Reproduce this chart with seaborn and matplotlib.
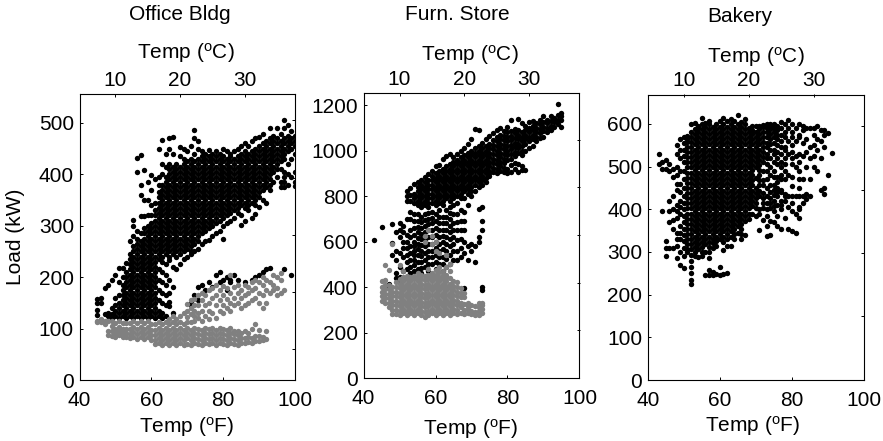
import pandas as pd
import seaborn as sns
import matplotlib.pyplot as plt

# Values: one list of loads (kW) for each whole-degree temperature (F)
office_high_temp = [45,46,47,48,49,50,51,52,53,54,55,56,57,58,59,60,61,62,63,64,65,66,67,68,69,70,71,72,73,74,75,76,77,78,79,80,81,82,83,84,85,86,87,88,89,90,91,92,93,94,95,96,97,98,99,100]
office_high_load = [
    [127,136,150,158], [150,160], [178,128], [125,130,185], [120,128,140,195], [125,135,145,160,205],
    [120,130,140,150,165,190,218], [125,135,145,155,165,175,185,200,218],
    [120,130,140,150,160,170,180,190,200,210,228],
    [125,135,145,155,165,175,185,195,205,215,225,235,245,270],
    [120,130,140,150,160,170,180,190,200,210,220,230,240,250,260,280,300,311],
    [125,135,145,155,165,175,185,195,205,215,225,235,245,255,265,275,290,405,432],
    [120,130,140,150,160,170,180,190,200,210,220,230,240,250,260,270,285,318,360,380,437],
    [125,135,145,155,165,175,185,195,205,215,225,235,245,255,265,275,285,295,318,350,408],
    [120,130,140,150,160,170,180,190,200,210,220,230,240,250,260,270,280,290,300,320,350,385],
    [125,135,145,155,165,175,185,195,205,215,225,235,245,255,265,275,285,295,305,320,340,370,398],
    [120,130,140,150,160,170,180,190,200,210,220,230,240,250,260,270,280,290,300,310,320,330,345,390],
    [125,135,155,175,195,215,235,245,255,265,275,285,295,305,315,325,335,345,355,365,380,395,450],
    [120,130,150,170,190,210,230,240,250,260,270,280,290,300,310,320,330,340,350,360,370,380,400,420,467],
    [125,145,165,185,205,225,245,255,265,275,285,295,305,315,325,335,345,355,365,375,385,395,415,440],
    [143,152,170,195,233,240,250,260,270,280,290,300,310,320,330,340,350,360,370,380,390,400,410,420,450,470],
    [130,180,220,245,255,265,275,285,295,305,315,325,335,345,355,365,375,385,395,405,415,440,473],
    [215,240,250,260,270,280,290,300,310,320,330,340,350,360,370,380,390,400,410,420],
    [225,245,255,265,275,285,295,305,315,325,335,345,355,365,375,385,395,405,415,435,453],
    [235,250,260,270,280,290,300,310,320,330,340,350,360,370,380,390,400,410,420,430,450],
    [240,255,265,275,285,295,305,315,325,335,345,355,365,375,385,395,405,415,425,445],
    [145,150,245,250,260,270,280,290,300,310,320,330,340,350,360,370,380,390,400,410,420,430,455],
    [165,250,265,275,285,295,305,315,325,335,345,355,365,375,385,395,405,415,425,440,470,486],
    [155,180,255,270,280,290,300,310,320,330,340,350,360,370,380,390,400,410,420,430,450,465],
    [185,265,285,295,305,315,325,335,345,355,365,375,385,395,405,415,425,435,445],
    [175,270,290,300,310,320,330,340,350,360,370,380,390,400,410,420,430,440],
    [190,272,295,305,315,325,335,345,355,365,375,385,395,405,415,425,435,447],
    [180,280,300,310,320,330,340,350,360,370,380,390,400,410,420,430,440],
    [205,285,305,315,325,335,345,355,365,375,385,395,405,415,425,435,445],
    [190,210,290,310,320,330,340,350,360,370,380,390,400,410,420,430,440],
    [275,195,300,315,325,335,345,355,365,375,385,395,405,415,425,435,450],
    [175,200,305,320,330,340,350,360,370,380,390,400,410,420,430,445],
    [195,190,310,325,335,345,355,365,375,385,395,405,415,425,435,440],
    [205,315,330,340,350,360,370,380,390,400,410,420,430,445],
    [195,325,335,345,355,365,375,385,395,405,415,425,435,450],
    [301,320,340,350,360,370,380,390,400,410,420,430,440,455],
    [190,310,335,345,355,365,375,385,395,405,415,425,435,445,460],
    [330,340,350,360,370,380,390,400,410,420,430,440,455],
    [195,315,345,355,365,375,385,395,405,415,425,435,445,465],
    [200,322,340,350,360,370,380,390,400,410,420,430,440,450,470],
    [205,337,355,365,375,385,395,405,415,425,435,445,455,473],
    [210,350,370,380,390,400,410,420,430,440,450,460,478],
    [215,345,375,385,395,405,415,425,435,445,455,465],
    [218,370,380,390,400,410,420,430,440,450,460,470,490],
    [385,405,415,425,435,445,455,465,475],
    [395,410,420,430,440,450,460,470,490],
    [375,385,410,425,435,445,455,465,478],
    [215,375,385,395,405,430,440,450,460,470,490,505],
    [380,400,420,445,455,465,475,495],
    [205,395,430,450,460,470,485],
    [378,385,405,440,455,465,475],
    [380,390,408,460,470,480],
    [425,445,465,480],
]

office_low_temp = [45,46,47,48,49,50,51,52,53,54,55,56,57,58,59,60,61,62,63,64,65,66,67,68,69,70,71,72,73,74,75,76,77,78,79,80,81,82,83,84,85,86,87,88,89,90,91,92,93,94,95,96,97]
office_low_load = [
    [112,115], [118,112], [108,115], [88,95,115], [86,95,105,115], [84,92,100,110], [88,96,104,114], [84,92,100,110],
    [84,92,100,110], [82,90,100,110], [84,94,104,114], [80,90,100,110], [84,94,104,114], [80,90,100,110], [84,94,104,114],
    [78,88,98,108], [70,78,88,98,108], [72,82,92,102,112], [68,78,88,98,108], [72,82,92,102,112], [68,78,88,98,108,118],
    [72,82,92,102,112,124], [68,78,88,98,108,118], [72,82,92,102,112,125], [68,78,88,98,108,130],
    [70,82,92,102,112,122,135,148], [68,78,88,98,112,128,140,155], [72,82,92,102,115,125,135,145,158], [70,80,90,100,120,130,145,165],
    [68,78,88,98,115,135,155,170], [72,82,92,102,125,145,165], [70,80,90,100,118,135,150,175],
    [72,82,92,102,130,160,178], [68,78,88,98,120,145,165,185], [72,82,92,102,135,155,175], [70,80,90,100,130,145,165,183],
    [68,78,88,98,140,158,178], [72,82,92,102,135,150,170,205], [70,80,90,96,145,160,180], [68,78,88,96,150,170,185],
    [72,82,92,140,160,175], [72,82,95,145,165,185], [74,84,92,150,170,180], [72,82,100,155,175,190], [76,86,108,160,178,195],
    [76,86,98,150,170,190], [78,84,140,165,185,200], [80,96,150,175,195], [170,190], [175,185,205], [165,178,200], [170,195,208], [175]
]

furn_high_temp = [43,45,47,48,49,50,51,52,53,54,55,56,57,58,59,60,61,62,63,64,65,66,67,68,69,70,71,72,73,74,75,76,77,78,79,80,81,82,83,84,85,86,87,88,89,90,91,92,93,94,95]
furn_high_load = [
    [605], [665], [400,415], [595,540,675], [440,460,520,560,640], [420,445,490,550,620,650,680],
    [440,470,530,570,600,640,670], [440,480,510,540,570,600,630,700,780,800,820], [460,490,520,550,580,620,650,700,730,780,805,835],
    [470,495,520,540,560,580,600,630,660,690,720,770,790,810,855], [480,510,540,565,590,615,640,665,690,720,760,780,800,820,840,860],
    [460,485,510,535,560,585,610,635,660,685,710,750,770,790,810,830,850,870], [490,520,550,580,610,640,670,695,720,760,780,800,820,840,860,885],
    [470,500,530,560,590,620,650,675,700,725,750,770,790,810,830,850,870,895], [500,530,560,590,620,650,680,705,730,770,790,810,830,850,870,890,910],
    [480,510,540,570,600,630,660,690,720,760,780,800,820,840,860,880,900,930], [500,530,560,590,620,650,680,710,740,770,790,810,830,850,870,890,910,935],
    [470,500,530,565,600,625,650,680,710,760,780,800,820,840,860,880,900,920,965], [490,525,560,590,620,650,680,710,740,790,810,830,850,870,890,910,930,975],
    [500,540,580,610,640,670,700,725,750,780,800,820,840,860,880,900,920,940,985], [520,560,590,620,650,680,720,760,790,810,830,850,870,890,910,930,950,970],
    [520,560,605,650,685,720,770,800,820,840,860,880,900,920,940,960,985], [530,570,610,650,690,740,790,810,830,850,870,890,910,930,950,970,1000],
    [395,550,600,650,690,730,790,820,840,860,880,900,920,940,960,980,1010], [520,580,760,810,830,850,870,890,910,930,950,970,990,1030],
    [560,590,800,820,840,860,880,900,920,940,960,980,1000,1050], [510,580,820,850,870,890,910,930,950,970,990,1010,1095],
    [745,620,600,840,860,880,900,920,940,960,980,1000,1020,1090], [385,400,650,690,750,850,870,890,910,930,950,970,990,1010,1035],
    [860,880,900,920,940,960,980,1000,1020,1050], [900,890,910,930,950,970,990,1010,1030,1065],
    [905,925,945,965,985,1005,1025,1045,1075], [900,920,940,960,980,1000,1020,1040,1060,1090],
    [910,930,950,970,990,1010,1030,1050,1070,1100], [905,925,945,965,985,1005,1025,1045,1065,1085],
    [900,920,960,980,1000,1020,1040,1060,1080,1105], [905,935,965,985,1005,1025,1045,1065,1085,1135],
    [920,945,975,995,1015,1035,1055,1075,1095], [905,940,990,1010,1030,1050,1070,1090,1140],
    [915,930,980,1000,1020,1040,1060,1080,1120], [915,1000,1030,1050,1070,1090,1110],
    [1010,1040,1060,1080,1100,1125], [1020,1050,1070,1090,1110,1130], [1040,1060,1080,1100,1120],
    [1055,1075,1095,1115,1135], [1060,1085,1105,1125,1150], [1080,1100,1120,1135], [1090,1110,1130,1150], [1105,1125,1145],
    [1115,1135,1155,1205], [1105,1135,1150,1165],
]

furn_low_temp = [45,46,47,48,49,50,51,52,53,54,55,56,57,58,59,60,61,62,63,64,65,66,67,68,69,70,71,72,73]
furn_low_load = [
    [340,360,380,400,425], [330,350,370,390,410,430,495], [310,330,350,370,390,410,475], [280,300,320,340,360,380,400,590], [280,300,320,340,360,380,400,420],
    [275,295,315,335,355,375,395,415,435,495], [285,305,325,345,365,385,405,425,445,470], [275,295,315,335,355,375,395,415,435,450], [285,305,325,345,365,385,405,425,445],
    [275,295,315,335,355,375,395,415,435,450], [285,305,325,345,365,385,405,425,445,460], [275,295,315,335,355,375,395,415,435,455],
    [270,290,310,330,350,370,390,410,430,450,600,625], [275,295,315,335,355,375,395,415,435,455,480,650], [285,305,325,345,365,385,405,425,445,460,590,625],
    [275,295,315,335,355,375,395,415,435,455,475,560,600], [285,305,325,345,365,385,405,425,445,465,490,550], [275,295,315,335,355,375,395,415,435,455,470],
    [285,305,325,345,365,385,405,425,445,455,490,540], [275,295,315,335,355,375,395,415,440,470,500], [285,305,325,345,365,385,405,425],
    [280,300,320,340,360,380,400,420], [285,310,330,355,375,395], [280,300,325,355,375], [285,305,315,330], [280,295,320], [275,290,315], [275,295,310,330], [285,305,320,330],
]

bakery_temp = [43,44,45,46,47,48,49,50,51,52,53,54,55,56,57,58,59,60,61,62,63,64,65,66,67,68,69,70,71,72,73,74,75,76,77,78,79,80,81,82,83,84,85,86,87,88,89,90,91]
bakery_load = [
    [505,530], [395,495,510], [290,310,325,495,515], [310,370,395,420,490,505], [310,355,375,400,430,475,495], [285,315,345,380,410,445,480,500,550],
    [270,300,330,360,390,420,460,520,565], [262,290,310,340,370,400,430,470,510,540,570],
    [300,318,342,366,390,414,438,462,486,510,534,558,572], [225,235,250,265,278,294,306,330,354,378,402,426,450,474,498,522,546,570,600],
    [290,312,324,348,372,396,420,444,468,492,516,540,564,588,602], [288,306,318,342,366,390,414,438,462,486,510,534,558,582,595],
    [290,312,324,348,372,396,420,444,468,492,516,540,564,588,615], [245,300,318,342,366,390,414,438,462,486,510,534,558,582,603],
    [245,258,285,312,336,360,384,408,432,456,480,504,528,552,576,600,608], [245,252,310,330,354,378,402,426,450,474,498,522,546,570,594],
    [248,315,336,360,384,408,432,456,480,504,528,552,576,600], [245,265,330,354,378,402,426,450,474,498,522,546,570,594],
    [248,305,336,360,384,408,432,456,480,504,528,552,576,600,615], [250,315,342,366,390,414,438,462,486,510,534,558,582,606],
    [315,336,360,384,408,432,456,480,504,528,552,576,600,612], [330,354,378,402,426,450,474,498,522,546,570,594],
    [345,360,384,408,432,456,480,504,528,552,576,600,620], [330,354,378,402,426,450,474,498,522,546,570,594,605],
    [340,384,408,432,456,480,504,528,552,576,600,612], [378,402,426,450,474,498,522,546,570,590],
    [390,408,432,456,480,504,528,552,576,585], [385,402,426,450,498,522,546,570,595], [352,390,432,456,480,504,528,552,576,595],
    [375,402,426,468,510,534,558,582,598], [338,360,385,415,450,490,520,546,570,590,600], [340,372,402,426,456,500,540,564,588,600],
    [370,395,420,445,475,510,540,570,590,600], [360,385,410,430,450,475,520,550,575,595], [355,400,420,440,470,500,530,560,590,605],
    [380,420,435,490,520,545,580,600], [355,405,430,480,530,560,590,610], [350,395,430,475,520,550,580,600], [345,390,430,500,525,560,590],
    [380,400,430,470,490,530,570,600], [415,430,470,525,555,585,595], [425,435,500,535,565,590], [430,470,520,545,590], [500,525,550,575,590],
    [490,540,565,595], [445,520,560,585], [435,450,545,575,585], [480,578], [532],
]

# second pass over the solid part of the bakery cloud, these sit between the values above
bakery_fill_temp = [48,49,50,51,52,53,54,55,56,57,58,59,60,61,62,63,64,65,66,67,68,69,70,71,72,73,74,75,76,77,78,80,82]
bakery_fill_load = [
    [330,395,460,530], [345,405,440,490,540], [325,355,385,415,450,490,525,555],
    [306,330,354,378,402,426,450,474,498,522,546,565], [318,342,366,390,414,438,462,486,510,534,558,582],
    [300,336,360,384,408,432,456,480,504,528,552,576], [330,354,378,402,426,450,474,498,522,546,570,590],
    [300,336,360,384,408,432,456,480,504,528,552,576,600], [330,354,378,402,426,450,474,498,522,546,570,594],
    [300,324,348,372,396,420,444,468,492,516,540,564,588], [320,342,366,390,414,438,462,486,510,534,558,582],
    [325,348,372,396,420,444,468,492,516,540,564,588], [342,366,390,414,438,462,486,510,534,558,582,606],
    [324,348,372,396,420,444,468,492,516,540,564,588], [330,354,378,402,426,450,474,498,522,546,570,594],
    [348,372,396,420,444,468,492,516,540,564,588], [342,366,390,414,438,462,486,510,534,558,582,606],
    [372,396,420,444,468,492,516,540,564,588], [342,366,390,414,438,462,486,510,534,558,582],
    [372,396,420,444,468,492,516,540,564,588], [390,414,438,462,486,510,534,558,582],
    [420,444,468,492,516,540,564,595], [414,438,474,510,534,558,582], [400,444,468,492,516,540,564,588],
    [414,438,456,489,522,546,570,594], [400,430,470,505,530,555,580], [415,440,480,520,552,576,596],
    [407,433,458,490,530,555,580], [440,465,505,535,565,585], [410,445,480,510,545,575], [430,470,505,540,570], [415,455,505,535,570], [405,450,510,575],
]

office_right_ticks = [60, 171, 281, 393, 505]
furn_right_ticks = [210, 419, 629, 838, 1048]
bakery_right_ticks = [150, 298, 446, 595]


def f_to_c(f):
    return (f - 32) / 1.8


def c_to_f(c):
    return c * 1.8 + 32


def to_frame(temps, loads):
    rows = [(t, v) for t, col in zip(temps, loads) for v in col]
    return pd.DataFrame(rows, columns=['temp', 'load'])


sns.set_style('white')
plt.rcParams['font.family'] = ['Liberation Sans', 'DejaVu Sans']
plt.rcParams['font.size'] = 15
plt.rcParams['text.color'] = 'black'
plt.rcParams['mathtext.default'] = 'regular'
plt.rcParams['xtick.labelsize'] = 15
plt.rcParams['ytick.labelsize'] = 15

W, H = 883, 441
DOT = 15
fig = plt.figure(figsize=(W / 100, H / 100), dpi=100)


def panel(left, right, top, bottom, ymax, yticks, right_ticks, title, title_xy, top_xy, bottom_xy, high, low=None):
    ax = fig.add_axes([left / W, 1 - bottom / H, (right - left) / W, (bottom - top) / H])
    sns.scatterplot(data=high, x='temp', y='load', color='black', s=DOT, linewidth=0, ax=ax)
    if low is not None:
        sns.scatterplot(data=low, x='temp', y='load', color='#808080', s=DOT, linewidth=0, ax=ax)
    ax.set_xlim(40, 100)
    ax.set_ylim(0, ymax)
    ax.set_xticks([40, 60, 80, 100])
    ax.set_yticks(yticks)
    ax.set_xlabel('')
    ax.set_ylabel('')
    ax.tick_params(axis='x', direction='in', length=2.5, width=0.7, color='black', pad=8, labelcolor='black', bottom=True)
    ax.tick_params(axis='y', direction='in', length=2.5, width=0.7, color='black', pad=4, labelcolor='black', left=True)
    for s in ax.spines.values():
        s.set_visible(True)
        s.set_color('black')
        s.set_linewidth(0.8)
    top_ax = ax.secondary_xaxis('top', functions=(f_to_c, c_to_f))
    top_ax.set_xticks([10, 20, 30])
    top_ax.tick_params(direction='in', length=2.5, width=0.7, pad=3, top=True, color='black', labelcolor='black')
    top_ax.spines['top'].set_visible(False)
    right_ax = ax.secondary_yaxis('right')
    right_ax.set_yticks(right_ticks)
    right_ax.set_yticklabels([])
    right_ax.tick_params(direction='in', length=2.5, width=0.7, right=True, color='black')
    right_ax.spines['right'].set_visible(False)
    fig.text(title_xy[0] / W, 1 - title_xy[1] / H, title, ha='center', va='center', fontsize=15)
    fig.text(top_xy[0] / W, 1 - top_xy[1] / H, 'Temp ($^{o}$C)', ha='center', va='center', fontsize=15)
    fig.text(bottom_xy[0] / W, 1 - bottom_xy[1] / H, 'Temp ($^{o}$F)', ha='center', va='center', fontsize=15)
    return ax


bakery = pd.concat([to_frame(bakery_temp, bakery_load), to_frame(bakery_fill_temp, bakery_fill_load)])

panel(79.5, 295, 94, 380, 556, [0, 100, 200, 300, 400, 500], office_right_ticks, 'Office Bldg', (180, 15), (186, 53), (187, 427),
      to_frame(office_high_temp, office_high_load), to_frame(office_low_temp, office_low_load))
panel(363.5, 579.5, 93, 378, 1253, [0, 200, 400, 600, 800, 1000, 1200], furn_right_ticks, 'Furn. Store', (457, 15), (470, 55), (471, 429),
      to_frame(furn_high_temp, furn_high_load), to_frame(furn_low_temp, furn_low_load))
panel(647.7, 864, 94.5, 380, 669, [0, 100, 200, 300, 400, 500, 600], bakery_right_ticks, 'Bakery', (740, 17), (756, 57), (753, 426), bakery)

fig.text(16 / W, 1 - 237 / H, 'Load (kW)', rotation=90, ha='center', va='center', fontsize=15)

fig.savefig('out.png', dpi=100)
